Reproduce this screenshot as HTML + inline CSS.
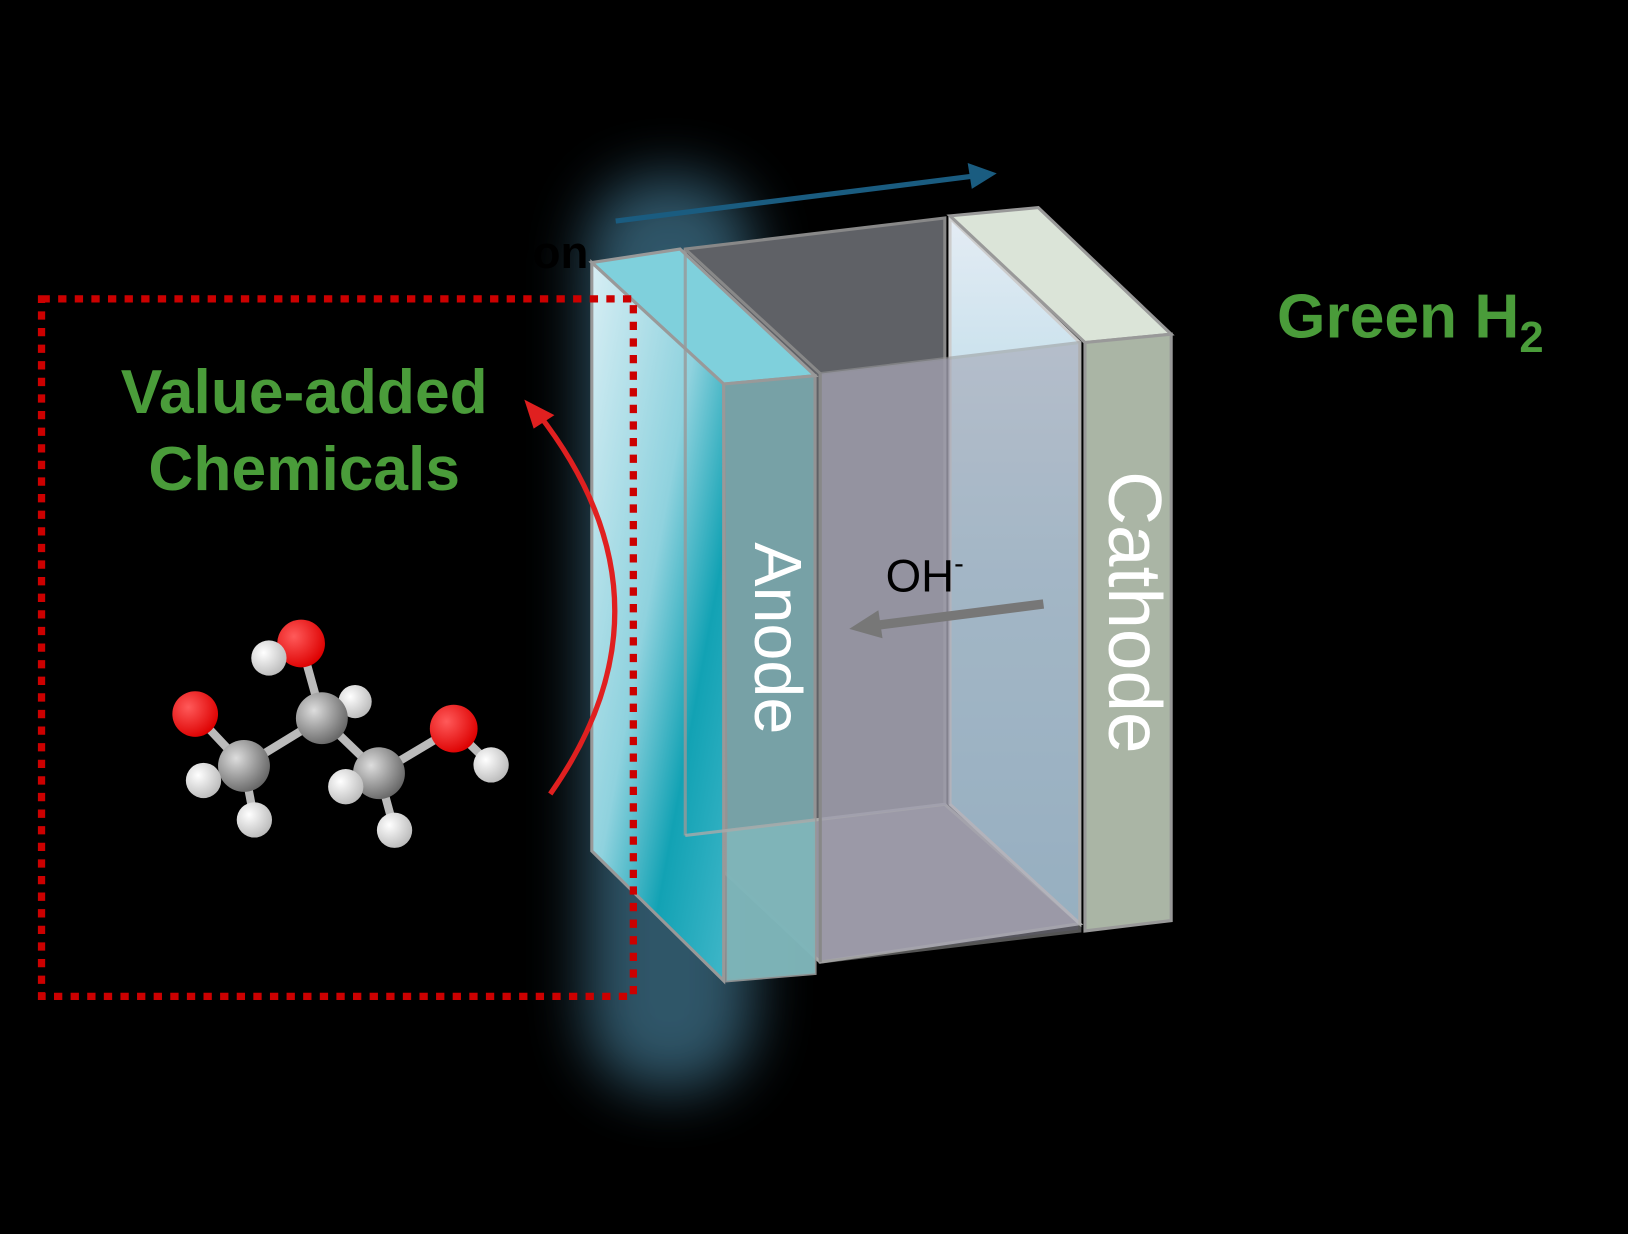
<!DOCTYPE html>
<html><head><meta charset="utf-8"><style>html,body{margin:0;padding:0;background:#000}svg{display:block}</style></head>
<body>
<svg width="1628" height="1234" viewBox="0 0 1568 1189" preserveAspectRatio="none" xmlns="http://www.w3.org/2000/svg">
<defs>
<filter id="glow" x="-80%" y="-30%" width="260%" height="160%"><feGaussianBlur stdDeviation="28"/></filter>
<linearGradient id="anodeG" x1="0" y1="0" x2="1" y2="1">
<stop offset="0" stop-color="#d7eef4"/><stop offset="0.45" stop-color="#8fd2de"/><stop offset="0.7" stop-color="#12a2b4"/><stop offset="1" stop-color="#3fb6c8"/></linearGradient>
<linearGradient id="rightG" x1="0" y1="0" x2="0" y2="1">
<stop offset="0" stop-color="#e4ecf4"/><stop offset="0.5" stop-color="#a8d4e4"/><stop offset="1" stop-color="#8cc4d8"/></linearGradient>
<radialGradient id="ball" cx="0.35" cy="0.35" r="0.7"><stop offset="0" stop-color="#fff"/><stop offset="1" stop-color="#bbb"/></radialGradient>
<radialGradient id="cball" cx="0.35" cy="0.35" r="0.7"><stop offset="0" stop-color="#ddd"/><stop offset="1" stop-color="#666"/></radialGradient>
<radialGradient id="oball" cx="0.35" cy="0.35" r="0.7"><stop offset="0" stop-color="#ff5a5a"/><stop offset="1" stop-color="#d00"/></radialGradient>
</defs>
<rect width="1568" height="1189" fill="#000"/>
<!-- glow -->
<rect x="565" y="170" width="160" height="880" rx="70" fill="#4f8fae" opacity="0.6" filter="url(#glow)"/>
<text x="513" y="258" font-family="Liberation Sans" font-weight="bold" font-size="44" fill="#000">on</text>
<!-- back face -->
<polygon points="660,240 910,210 910,775 660,805" fill="#5f6166" stroke="#888" stroke-width="3"/>
<!-- bottom -->
<polygon points="660,805 910,775 1040,890 790,927" fill="#9593a0" stroke="#aaa" stroke-width="3"/>
<!-- anode slab -->
<polygon points="570,253 655,240 785,362 697,370" fill="#7fd0dc" stroke="#999" stroke-width="3"/>
<polygon points="570,253 697,370 697,945 570,820" fill="url(#anodeG)" stroke="#999" stroke-width="3"/>
<polygon points="697,370 785,362 785,938 700,945" fill="#7aa9ae" opacity="0.9" stroke="#999" stroke-width="3"/>
<polygon points="700,800 785,790 785,938 700,945" fill="#7fb8bc" opacity="0.8"/>
<line x1="660" y1="240" x2="660" y2="805" stroke="#999" stroke-width="3" opacity="0.8"/>
<line x1="660" y1="805" x2="785" y2="790" stroke="#aaa" stroke-width="3" opacity="0.8"/>
<!-- right inner panel -->
<polygon points="915,210 1040,330 1040,890 915,775" fill="url(#rightG)" stroke="#ccc" stroke-width="3"/>
<!-- front face -->
<polygon points="790,360 1040,330 1040,897 790,927" fill="#a09fae" opacity="0.55" stroke="#999" stroke-width="3"/>
<polygon points="790,360 915,345 915,775 790,790" fill="#a09fae" opacity="0.6"/>
<line x1="660" y1="240" x2="790" y2="360" stroke="#888" stroke-width="3"/>
<line x1="790" y1="360" x2="790" y2="927" stroke="#888" stroke-width="3"/>
<!-- cathode -->
<polygon points="915,208 1000,200 1128,322 1045,330" fill="#dbe4d8" stroke="#999" stroke-width="3"/>
<polygon points="1045,330 1128,322 1128,887 1045,897" fill="#aab5a5" stroke="#999" stroke-width="3"/>
<text transform="translate(727,615) rotate(90)" text-anchor="middle" font-family="Liberation Sans" font-size="64" fill="#fff">Anode</text>
<text transform="translate(1068,590) rotate(90)" text-anchor="middle" font-family="Liberation Sans" font-size="72" fill="#fff">Cathode</text>
<text x="853" y="570" font-family="Liberation Sans" font-size="44" fill="#000">OH<tspan dy="-18" font-size="28">-</tspan></text>
<line x1="1005" y1="582" x2="840" y2="603" stroke="#777" stroke-width="9"/>
<polygon points="818,606 846,588 850,615" fill="#777"/>
<line x1="593" y1="213" x2="935" y2="170" stroke="#1a5c80" stroke-width="5"/>
<polygon points="960,167 932,157 936,182" fill="#1a5c80"/>
<text x="1230" y="325" font-family="Liberation Sans" font-weight="bold" font-size="60" fill="#4a9c3a">Green H<tspan dy="14" font-size="42">2</tspan></text>
<text x="293" y="398" text-anchor="middle" font-family="Liberation Sans" font-weight="bold" font-size="60" fill="#4a9c3a">Value-added</text>
<text x="293" y="472" text-anchor="middle" font-family="Liberation Sans" font-weight="bold" font-size="60" fill="#4a9c3a">Chemicals</text>
<rect x="40" y="288" width="570" height="672" fill="none" stroke="#c00" stroke-width="7" stroke-dasharray="8 8"/>
<path d="M530,765 Q660,580 518,398" fill="none" stroke="#e02020" stroke-width="5"/>
<polygon points="505,385 534,400 514,413" fill="#e02020"/>
<!-- molecule -->
<g stroke="#bbb" stroke-width="8">
<line x1="188" y1="688" x2="235" y2="738"/><line x1="235" y1="738" x2="310" y2="692"/><line x1="310" y1="692" x2="290" y2="620"/><line x1="310" y1="692" x2="365" y2="745"/><line x1="365" y1="745" x2="437" y2="702"/><line x1="437" y1="702" x2="473" y2="737"/><line x1="235" y1="738" x2="245" y2="790"/><line x1="365" y1="745" x2="380" y2="800"/>
</g>
<circle cx="290" cy="620" r="23" fill="url(#oball)"/>
<circle cx="259" cy="634" r="17" fill="url(#ball)"/>
<circle cx="342" cy="676" r="16" fill="url(#ball)"/>
<circle cx="310" cy="692" r="25" fill="url(#cball)"/>
<circle cx="188" cy="688" r="22" fill="url(#oball)"/>
<circle cx="235" cy="738" r="25" fill="url(#cball)"/>
<circle cx="196" cy="752" r="17" fill="url(#ball)"/>
<circle cx="245" cy="790" r="17" fill="url(#ball)"/>
<circle cx="437" cy="702" r="23" fill="url(#oball)"/>
<circle cx="365" cy="745" r="25" fill="url(#cball)"/>
<circle cx="333" cy="758" r="17" fill="url(#ball)"/>
<circle cx="473" cy="737" r="17" fill="url(#ball)"/>
<circle cx="380" cy="800" r="17" fill="url(#ball)"/>
</svg>
</body></html>
